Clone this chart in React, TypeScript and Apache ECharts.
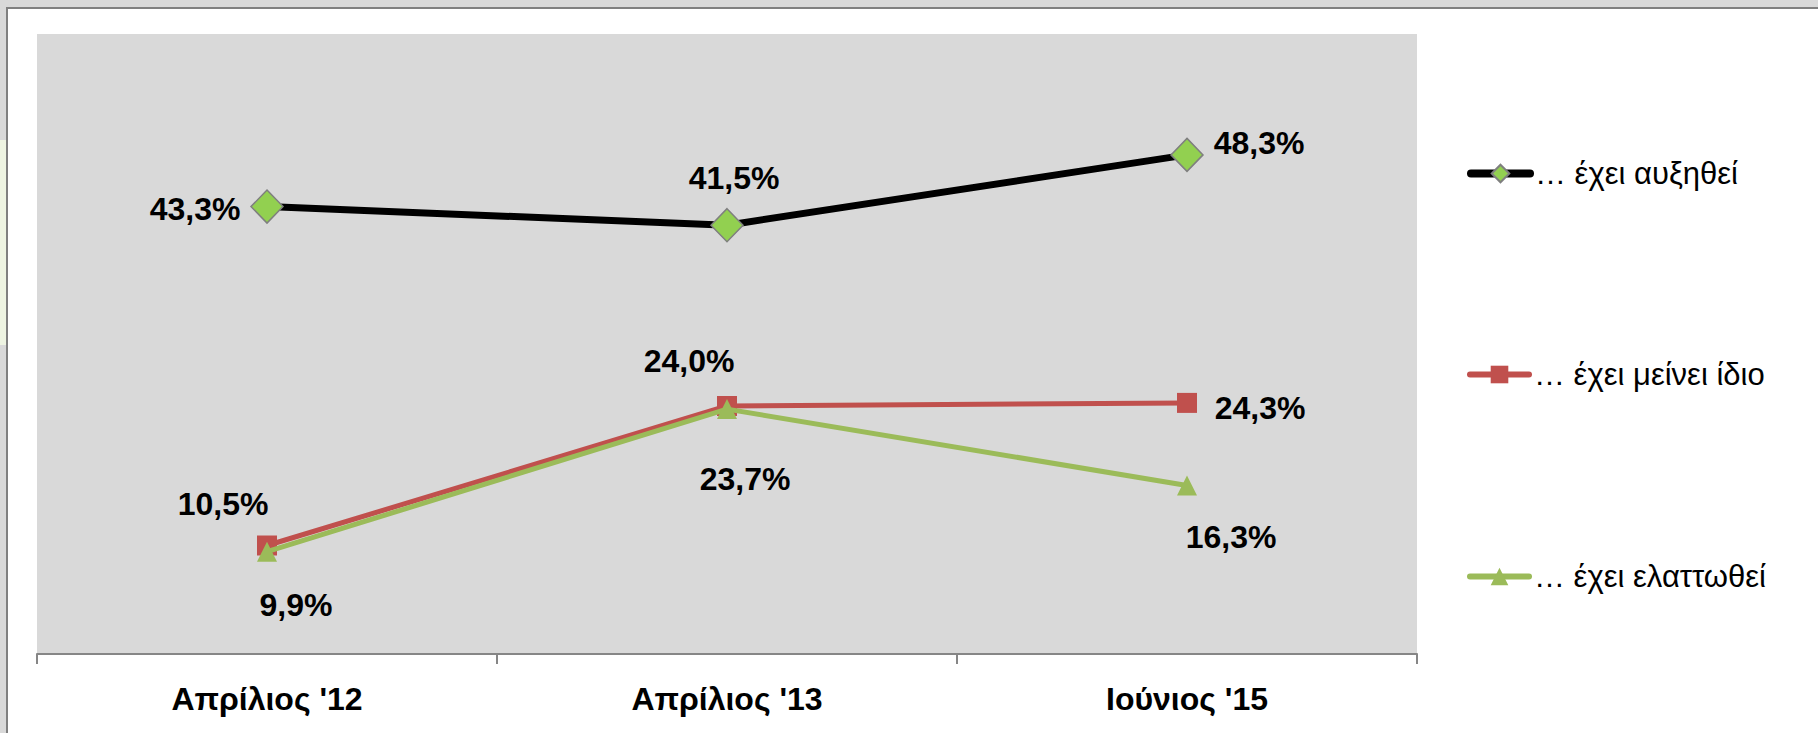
import React, { useEffect, useRef } from "react";
import * as echarts from "echarts";

const categories = ["Απρίλιος '12", "Απρίλιος '13", "Ιούνιος '15"];
const seriesNames = ["… έχει αυξηθεί", "… έχει μείνει ίδιο", "… έχει ελαττωθεί"];
const increased = [43.3, 41.5, 48.3];
const same = [10.5, 24.0, 24.3];
const decreased = [9.9, 23.7, 16.3];

// label offsets (px) from each point's centre
const offIncreased = [[-72, 2], [7, -47], [72, -12]];
const offSame = [[-44, -42], [-38, -45], [73, 5]];
const offDecreased = [[29, 53], [18, 70], [44, 51]];

const fmt = (v: number) => v.toFixed(1).replace(".", ",") + "%";

const labelBase = {
  show: true,
  position: "inside",
  fontFamily: "Liberation Sans",
  fontWeight: "bold",
  fontSize: 32,
  color: "#000",
  formatter: (p: any) => fmt(p.value),
};

const build = (vals: number[], offs: number[][]) =>
  vals.map((v, i) => ({ value: v, label: { ...labelBase, offset: offs[i] } }));

export default function App() {
  const ref = useRef<HTMLDivElement>(null);
  useEffect(() => {
    document.body.style.margin = "0";
    const chart = echarts.init(ref.current!, null, { renderer: "svg" });
    const legendTops = [158, 359, 561];
    const legendLineWidths = [8, 6, 6];
    chart.setOption({
      animation: false,
      backgroundColor: "#d9d9d9",
      graphic: [
        { type: "rect", z: -5, shape: { x: 0, y: 140, width: 6, height: 205 }, style: { fill: "#eef4e2" } },
        {
          type: "rect",
          z: -4,
          shape: { x: 7, y: 8, width: 1830, height: 740 },
          style: { fill: "#ffffff", stroke: "#808080", lineWidth: 2 },
        },
      ],
      grid: {
        left: 37,
        top: 34,
        width: 1380,
        height: 620,
        show: true,
        backgroundColor: "#d9d9d9",
        borderWidth: 0,
      },
      legend: seriesNames.map((n, i) => ({
        data: [n],
        left: 1467,
        top: legendTops[i],
        padding: 0,
        itemWidth: 59,
        itemHeight: 22,
        itemGap: 7,
        selectedMode: false,
        lineStyle: { width: legendLineWidths[i], cap: "round" },
        textStyle: {
          fontFamily: "Liberation Sans",
          fontSize: 31,
          lineHeight: 30,
          color: "#000",
        },
      })),
      xAxis: {
        type: "category",
        data: categories,
        boundaryGap: true,
        axisLine: { show: true, lineStyle: { color: "#868686", width: 2 } },
        axisTick: { show: true, length: 10, lineStyle: { color: "#868686", width: 2 } },
        axisLabel: {
          margin: 29,
          fontFamily: "Liberation Sans",
          fontWeight: "bold",
          fontSize: 32,
          color: "#000",
        },
        splitLine: { show: false },
      },
      yAxis: {
        type: "value",
        min: 0,
        max: 60,
        show: false,
        splitLine: { show: false },
      },
      series: [
        {
          name: seriesNames[0],
          type: "line",
          data: build(increased, offIncreased),
          symbol: "diamond",
          symbolSize: [32, 33],
          lineStyle: { color: "#000000", width: 7, cap: "round" },
          itemStyle: { color: "#92d050", borderColor: "#7f7f7f", borderWidth: 1.5 },
          emphasis: { disabled: true },
          z: 3,
        },
        {
          name: seriesNames[1],
          type: "line",
          data: build(same, offSame),
          symbol: "rect",
          symbolSize: 20,
          lineStyle: { color: "#c0504d", width: 5, cap: "round" },
          itemStyle: { color: "#c0504d" },
          emphasis: { disabled: true },
          z: 4,
        },
        {
          name: seriesNames[2],
          type: "line",
          data: build(decreased, offDecreased),
          symbol: "triangle",
          symbolSize: 20,
          lineStyle: { color: "#9bbb59", width: 5, cap: "round" },
          itemStyle: { color: "#9bbb59" },
          emphasis: { disabled: true },
          z: 5,
        },
      ],
    });
    return () => chart.dispose();
  }, []);
  return (
    <div
      ref={ref}
      style={{ position: "absolute", left: 0, top: 0, width: 1818, height: 733 }}
    />
  );
}
